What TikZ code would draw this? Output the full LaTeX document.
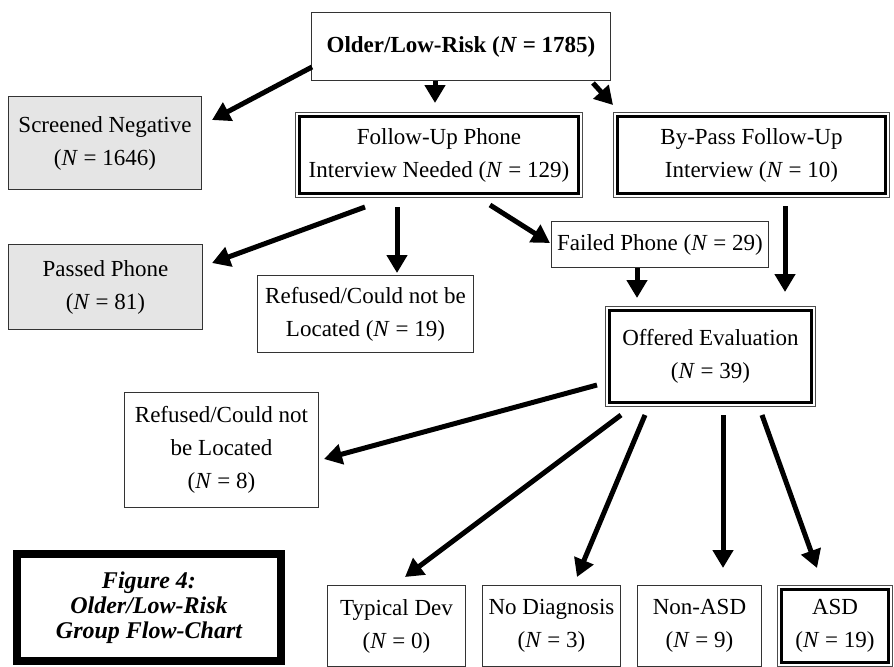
\documentclass[tikz,border=0pt]{standalone}
\usepackage{fontspec}
\setmainfont{Liberation Serif}
\usetikzlibrary{arrows.meta, calc}

\begin{document}
\begin{tikzpicture}[
    x=0.5pt, y=-0.5pt,
    font=\fontsize{11.5}{16.5}\selectfont,
    box/.style={draw=black!80, line width=0.5pt, align=center, inner sep=1pt},
    greybox/.style={box, fill=black!10},
    dblbox/.style={draw=black, line width=1.5pt, align=center, inner sep=1pt},
    figbox/.style={draw=black, line width=4pt, align=center, inner sep=1pt,
                   font=\fontsize{12}{12.5}\selectfont\bfseries\itshape},
    flow/.style={-{Triangle[length=9pt, width=10pt]}, line width=2.5pt}
]
\useasboundingbox (0,0) rectangle (894,666);
\clip (0,0) rectangle (894,666);

% top level
\node[box, minimum width=149.5pt, minimum height=34pt] (top) at (461,46.5)
      {\textbf{Older/Low-Risk (\textit{N} = 1785)}};
\node[greybox, minimum width=96.5pt, minimum height=46.5pt] (neg) at (105,143)
      {Screened Negative\\(\textit{N} = 1646)};
\node[dblbox, minimum width=139.5pt, minimum height=38.5pt] (fu) at (439,155)
      {Follow-Up Phone\\Interview Needed (\textit{N} = 129)};
\node[dblbox, minimum width=134pt, minimum height=38.5pt] (bp) at (751.5,155)
      {By-Pass Follow-Up\\Interview (\textit{N} = 10)};

% phone interview
\node[greybox, minimum width=97pt, minimum height=42.5pt] (pass) at (105.5,287)
      {Passed Phone\\(\textit{N} = 81)};
\node[box, minimum width=108pt, minimum height=38.5pt] (ref19) at (365.5,314)
      {Refused/Could not be\\Located (\textit{N} = 19)};
\node[box, minimum width=108.5pt, minimum height=23pt] (fail) at (660,244.5)
      {Failed Phone (\textit{N} = 29)};

% evaluation
\node[dblbox, minimum width=101pt, minimum height=46pt] (off) at (710.5,356.5)
      {Offered Evaluation\\(\textit{N} = 39)};
\node[box, minimum width=97pt, minimum height=57.5pt] (ref8) at (221.5,450)
      {Refused/Could not\\be Located\\(\textit{N} = 8)};

% outcomes
\node[box, minimum width=69pt, minimum height=40.5pt] (typ) at (396.5,626)
      {Typical Dev\\(\textit{N} = 0)};
\node[box, minimum width=69pt, minimum height=40.5pt] (nodx) at (551.5,626)
      {No Diagnosis\\(\textit{N} = 3)};
\node[box, minimum width=62pt, minimum height=40.5pt] (nonasd) at (699.5,626)
      {Non-ASD\\(\textit{N} = 9)};
\node[dblbox, minimum width=53.5pt, minimum height=36.5pt] (asd) at (835,626)
      {ASD\\(\textit{N} = 19)};

\node[figbox, minimum width=132pt, minimum height=53.5pt] (fig) at (149,607.5)
      {Figure 4:\\Older/Low-Risk\\Group Flow-Chart};

% thin outer line of the double frames
\foreach \n in {fu,bp,off,asd}
  \draw[line width=0.5pt, black!70] ($(\n.south west)+(-2.5,2.5)$) rectangle ($(\n.north east)+(2.5,-2.5)$);

% arrows
\draw[flow] ($(top.west)+(1,20.5)$) -- ($(neg.north east)+(10,24)$);
\draw[flow] ($(top.south)+(-26,0)$) -- ($(fu.north)+(-4,-12)$);
\draw[flow] ($(top.south east)+(-18,2)$) -- ($(bp.north west)+(-3,-10)$);
\draw[flow] ($(fu.south)+(-74,12)$) -- ($(pass.north east)+(9,19)$);
\draw[flow] ($(fu.south)+(-42,12)$) -- ($(ref19.north)+(31.5,-2)$);
\draw[flow] ($(fu.south)+(51,10)$) -- ($(fail.west)+(-1,-1.5)$);
\draw[flow] ($(fail.south)+(-23,0)$) -- ($(off.north)+(-73.5,-11)$);
\draw[flow] ($(bp.south)+(33.5,11)$) -- ($(off.north east)+(-28,-17)$);
\draw[flow] ($(off.west)+(-11,28.5)$) -- ($(ref8.east)+(5,9)$);
\draw[flow] ($(off.south)+(-89.5,11)$) -- ($(typ.north)+(8.5,-8)$);
\draw[flow] ($(off.south)+(-65.5,11)$) -- ($(nodx.north)+(25.5,-8)$);
\draw[flow] ($(off.south)+(12.5,11)$) -- ($(nonasd.north)+(23.5,-17)$);
\draw[flow] ($(off.south)+(51.5,11)$) -- ($(asd.north)+(-18,-20)$);
\end{tikzpicture}
\end{document}
